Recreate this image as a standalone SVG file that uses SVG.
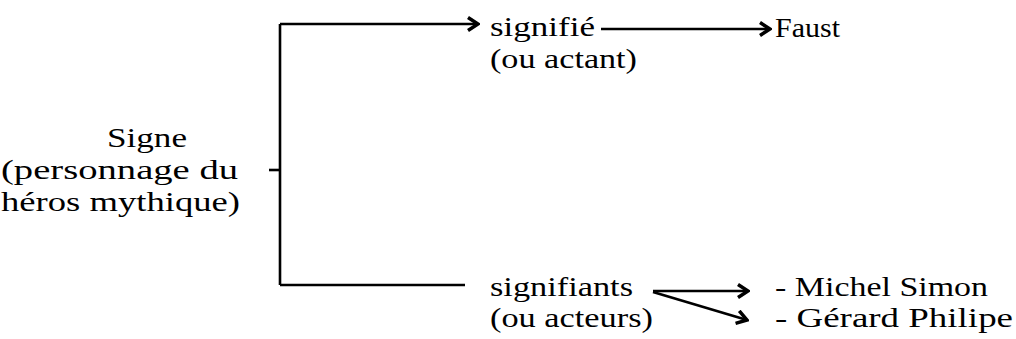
<svg xmlns="http://www.w3.org/2000/svg" width="1016" height="339" viewBox="0 0 1016 339">
  <defs>
    <marker id="chev" viewBox="0 0 14 16" refX="12" refY="8" markerWidth="14" markerHeight="16" markerUnits="userSpaceOnUse" orient="auto">
      <path d="M2,1.5 L12,8 L2,14.5" fill="none" stroke="#000" stroke-width="3.5" stroke-linejoin="miter"/>
    </marker>
    <style>
      .t { font-family: "Liberation Serif", "DejaVu Serif", serif; font-size: 28px; fill: #000; }
      .ln { fill: none; stroke: #000; stroke-width: 2.6; }
    </style>
  </defs>
  <rect width="1016" height="339" fill="#fff"/>

  <!-- bracket and arrows -->
  <g id="connectors">
    <path class="ln" d="M280,24 L280,285"/>
    <path class="ln" d="M269,170 L280,170"/>
    <path class="ln" d="M280,24 L478,24" marker-end="url(#chev)"/>
    <path class="ln" d="M280,285 L465,285"/>
    <path class="ln" d="M601,29 L770,29" marker-end="url(#chev)"/>
    <path class="ln" d="M653,291 L748,291" marker-end="url(#chev)"/>
    <path class="ln" d="M653,292 L747,320" marker-end="url(#chev)"/>
  </g>

  <g id="signe">
    <text class="t" x="107" y="147" textLength="80" lengthAdjust="spacingAndGlyphs">Signe</text>
    <text class="t" x="1" y="179" textLength="237" lengthAdjust="spacingAndGlyphs">(personnage du</text>
    <text class="t" x="1" y="211" textLength="239" lengthAdjust="spacingAndGlyphs">héros mythique)</text>
  </g>

  <g id="signifie">
    <text class="t" x="490" y="36" textLength="105" lengthAdjust="spacingAndGlyphs">signifié</text>
    <text class="t" x="490" y="68" textLength="147" lengthAdjust="spacingAndGlyphs">(ou actant)</text>
  </g>

  <g id="faust">
    <text class="t" x="775" y="37" textLength="65" lengthAdjust="spacingAndGlyphs">Faust</text>
  </g>

  <g id="signifiants">
    <text class="t" x="490" y="296" textLength="143" lengthAdjust="spacingAndGlyphs">signifiants</text>
    <text class="t" x="490" y="327" textLength="163" lengthAdjust="spacingAndGlyphs">(ou acteurs)</text>
  </g>

  <g id="acteurs">
    <text class="t" x="775" y="296" textLength="213" lengthAdjust="spacingAndGlyphs">- Michel Simon</text>
    <text class="t" x="775" y="327" textLength="238" lengthAdjust="spacingAndGlyphs">- Gérard Philipe</text>
  </g>
</svg>
